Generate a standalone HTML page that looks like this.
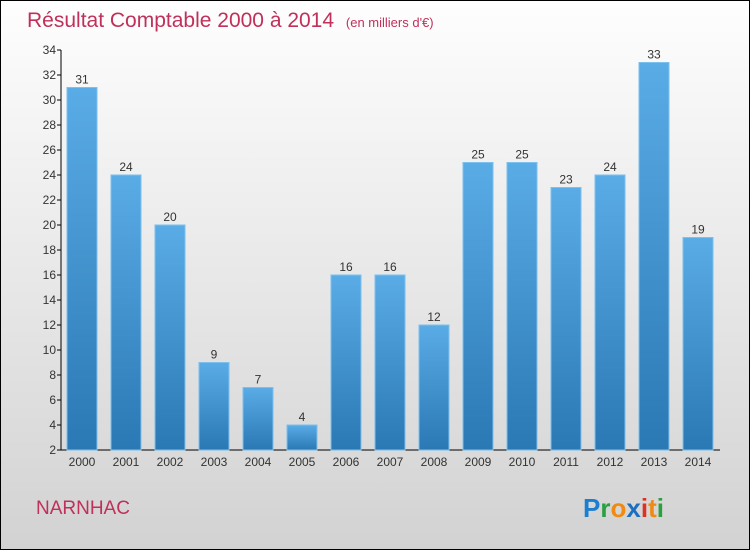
<!DOCTYPE html>
<html><head><meta charset="utf-8"><style>
html,body{margin:0;padding:0;}
body{width:750px;height:550px;overflow:hidden;font-family:"Liberation Sans",sans-serif;}
</style></head><body>
<svg id="chart" width="750" height="550" xmlns="http://www.w3.org/2000/svg">
<defs>
<linearGradient id="bg" x1="0" y1="0" x2="0" y2="1"><stop offset="0" stop-color="#fefefe"/><stop offset="1" stop-color="#d2d2d2"/></linearGradient>
<linearGradient id="bar" x1="0" y1="0" x2="0" y2="1"><stop offset="0" stop-color="#5aace6"/><stop offset="1" stop-color="#2a78b4"/></linearGradient>
</defs>
<rect x="0.5" y="0.5" width="749" height="549" fill="url(#bg)" stroke="#000"/>
<text x="27" y="27" font-size="21" fill="#c0305a">Résultat Comptable 2000 à 2014 <tspan font-size="13" dx="6">(en milliers d'€)</tspan></text>
<g id="plot"></g>
<text x="36" y="514" font-size="19" fill="#c0305a">NARNHAC</text>
<g font-size="26" font-weight="bold" font-family="'Liberation Sans',sans-serif">
<text x="583" y="517"><tspan fill="#1a7fd0">P</tspan><tspan fill="#2aa040">r</tspan><tspan fill="#f08a10">o</tspan><tspan fill="#1a6fc0">x</tspan><tspan fill="#e03020">i</tspan><tspan fill="#f08a10">t</tspan><tspan fill="#2aa040">i</tspan></text>
</g>
</svg>
<script>
const years=["2000","2001","2002","2003","2004","2005","2006","2007","2008","2009","2010","2011","2012","2013","2014"];
const values=[31,24,20,9,7,4,16,16,12,25,25,23,24,33,19];
const yTicks=[2,4,6,8,10,12,14,16,18,20,22,24,26,28,30,32,34];
const NS="http://www.w3.org/2000/svg";
const g=document.getElementById('plot');
const yMin=2,yMax=34,y0=450,y1=50;
function yS(v){return y0-(v-yMin)/(yMax-yMin)*(y0-y1);}
function xS(i){return 82+i*44;}
function mk(t,a,txt){const e=document.createElementNS(NS,t);for(const k in a)e.setAttribute(k,a[k]);if(txt!=null)e.textContent=txt;g.appendChild(e);return e;}
let e;
e=mk('line',{x1:61,y1:y1,x2:61,y2:y0,stroke:'#000'});


e=mk('line',{x1:61,y1:y0,x2:720,y2:y0,stroke:'#000'});


yTicks.forEach(v=>{
  const t=mk('line',{x1:57,y1:yS(v),x2:61,y2:yS(v),stroke:'#000'});
  
  
  const l=mk('text',{x:56,y:yS(v)+4,'font-size':12,fill:'#333','text-anchor':'end'},v);
  
  
});
values.forEach((v,i)=>{
  const x=xS(i);
  const b=mk('rect',{x:x-15,y:yS(v),width:30,height:y0-yS(v),fill:'url(#bar)',stroke:'#7cc0ee','stroke-width':1});
  
  
  const vl=mk('text',{x:x,y:yS(v)-4,'font-size':12,fill:'#333','text-anchor':'middle'},v);
  
  
  const xl=mk('text',{x:x,y:466,'font-size':12,fill:'#333','text-anchor':'middle'},years[i]);
  
  
});
</script>
</body></html>
